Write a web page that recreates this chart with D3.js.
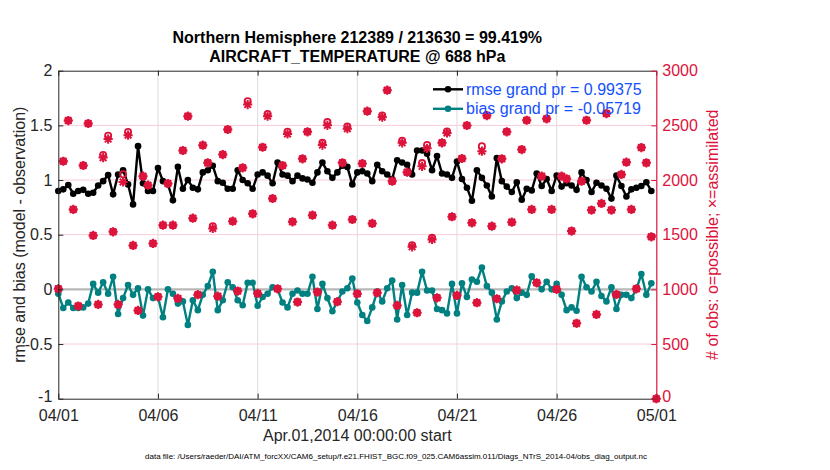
<!DOCTYPE html>
<html>
<head>
<meta charset="utf-8">
<script src="https://cdn.jsdelivr.net/npm/d3@7"></script>
<style>
  html, body { margin: 0; padding: 0; background: #fff; }
  svg { display: block; font-family: "Liberation Sans", Arial, Helvetica, sans-serif; }
</style>
</head>
<body>
<svg id="chart" width="830" height="470"></svg>
<script>
// ---------------- data ----------------
const startDate = Date.UTC(2014, 3, 1);   // Apr 01 2014 00:00 UTC
const stepHours = 6;

const rmse = [
  0.90,0.915,0.954,0.875,0.90,0.91,0.875,0.884,0.95,0.99,1.046,0.869,1.05,1.09,0.96,0.777,1.31,0.97,0.90,0.90,1.11,0.99,0.96,0.814,1.12,0.92,1.0,0.93,0.915,1.07,
  1.09,1.13,0.99,0.975,0.92,0.92,1.09,1.0,0.97,0.92,1.05,1.07,1.04,0.97,1.16,1.05,1.04,0.99,1.04,1.015,1.005,0.975,1.07,1.16,1.08,1.02,1.07,1.13,1.12,0.96,
  1.07,1.08,1.06,0.99,1.14,1.08,1.05,1.01,1.18,1.16,1.14,1.05,1.27,1.27,1.24,1.09,1.22,1.06,1.05,1.02,1.17,1.01,0.93,0.81,1.09,1.02,0.95,0.85,1.20,0.99,
  0.94,0.89,0.98,0.82,0.92,0.905,1.06,0.945,1.01,0.90,1.04,0.94,0.97,0.95,0.91,1.07,1.0,0.89,0.975,0.95,0.92,0.83,1.04,0.945,0.85,0.915,0.93,0.945,0.98,0.90
];

const bias = [
  -0.04,-0.17,-0.12,-0.17,-0.17,-0.165,-0.13,0.05,-0.03,0.065,-0.04,0.115,-0.225,-0.08,0.04,-0.05,0.01,-0.24,0.0,-0.08,-0.07,-0.255,0.0,-0.04,-0.13,-0.11,-0.325,-0.10,-0.19,-0.05,
  0.03,0.16,-0.19,-0.10,0.065,0.02,-0.10,-0.145,0.06,0.06,-0.15,-0.07,-0.04,0.02,0.0,-0.12,-0.165,-0.04,-0.01,-0.04,-0.04,0.115,-0.18,0.05,-0.08,-0.20,-0.11,-0.02,0.01,0.10,
  -0.12,-0.235,-0.29,-0.165,-0.02,-0.11,0.01,0.08,-0.275,0.04,-0.235,-0.03,-0.03,0.16,-0.01,-0.01,-0.18,-0.19,-0.22,0.05,-0.22,0.055,-0.07,0.09,0.07,0.20,0.03,-0.03,-0.275,-0.11,
  -0.02,0.01,-0.08,-0.03,-0.05,0.12,0.055,0.0,0.07,0.0,0.05,-0.05,-0.19,-0.165,-0.195,0.115,0.02,-0.02,0.07,-0.06,-0.11,0.02,-0.18,-0.05,-0.05,-0.08,0.0,0.14,-0.05,0.055
];

const obsAssimilated = [
  1005,2172,2544,1731,847,2133,2517,1493,862,2205,2375,1526,862,1983,2410,1402,807,2035,1953,1420,932,1587,1968,1587,917,2270,2584,1651,951,2319,
  2157,1557,938,2233,2462,1624,984,2112,2690,1691,963,2300,2584,1831,1005,2133,2422,1618,884,2194,2441,1679,975,2320,2500,1587,887,2157,2470,1639,
  960,2151,2630,1603,969,2575,2822,1990,853,2340,2072,1389,786,2125,2290,1456,923,2340,2430,1664,945,2197,2499,1609,878,2264,2590,1578,914,2194,
  2441,1615,993,2279,2547,1731,1060,2035,2560,1731,1000,2035,2011,1533,689,1990,2547,1725,771,1786,2608,1725,954,2051,2163,1731,1005,2297,2157,1481,
  0
];

const obsPossible = [
  1005,2172,2544,1731,847,2133,2517,1493,862,2230,2405,1526,862,2053,2440,1402,807,2035,1953,1420,932,1587,1968,1587,917,2270,2584,1651,951,2319,
  2157,1577,938,2233,2462,1624,984,2112,2720,1691,963,2300,2604,1831,1005,2133,2442,1618,884,2194,2441,1679,975,2340,2530,1587,887,2157,2490,1639,
  960,2151,2630,1603,969,2590,2822,1990,853,2360,2072,1404,786,2155,2320,1471,923,2340,2445,1664,945,2197,2499,1609,878,2309,2590,1578,914,2194,
  2441,1615,993,2279,2547,1731,1060,2035,2560,1731,1000,2035,2011,1533,689,1990,2547,1725,771,1786,2608,1725,954,2051,2163,1731,1005,2297,2157,1481,
  0
];

const xTickDays   = [0, 5, 10, 15, 20, 25, 30];
const xTickLabels = ["04/01", "04/06", "04/11", "04/16", "04/21", "04/26", "05/01"];
const yLeftTicks  = [-1, -0.5, 0, 0.5, 1, 1.5, 2];
const yLeftLabels = ["-1", "-0.5", "0", "0.5", "1", "1.5", "2"];
const yRightTicks = [0, 500, 1000, 1500, 2000, 2500, 3000];

const titleLines = ["Northern Hemisphere 212389 / 213630 = 99.419%", "AIRCRAFT_TEMPERATURE @ 688 hPa"];
const legendLabels = ["rmse grand pr = 0.99375", "bias grand pr = -0.05719"];
const xLabel = "Apr.01,2014 00:00:00 start";
const yLeftLabel = "rmse and bias (model - observation)";
const yRightLabel = "# of obs: o=possible; \u00d7=assimilated";
const dataFileText = "data file: /Users/raeder/DAI/ATM_forcXX/CAM6_setup/f.e21.FHIST_BGC.f09_025.CAM6assim.011/Diags_NTrS_2014-04/obs_diag_output.nc";

// ---------------- layout ----------------
const L = 58.3, R = 656.3, T = 70.7, B = 398.7;
const DAY = 86400000;
const C_RMSE = "#000000", C_BIAS = "#008080", C_OBS = "#dc143c", C_AX = "#262626", C_LEG = "#1450ff";

const svg = d3.select("#chart");

const x = d3.scaleUtc().domain([new Date(startDate), new Date(startDate + 30 * DAY)]).range([L, R]);
const yL = d3.scaleLinear().domain([-1, 2]).range([B, T]);
const yR = d3.scaleLinear().domain([0, 3000]).range([B, T]);

const timeAt = i => new Date(startDate + i * stepHours * 3600000);
const xTickDates = xTickDays.map(d => new Date(startDate + d * DAY));

// grid
const grid = svg.append("g");
grid.selectAll("line.v").data(xTickDates.slice(1, -1)).join("line")
  .attr("x1", d => x(d)).attr("x2", d => x(d)).attr("y1", T).attr("y2", B)
  .attr("stroke", "#dcdcdc").attr("stroke-width", 1);
grid.selectAll("line.h").data(yLeftTicks.slice(1, -1)).join("line")
  .attr("x1", L).attr("x2", R).attr("y1", d => yL(d)).attr("y2", d => yL(d))
  .attr("stroke", "#f6cdd8").attr("stroke-width", 1);

// zero line
svg.append("line").attr("x1", L).attr("x2", R).attr("y1", yL(0)).attr("y2", yL(0))
  .attr("stroke", "#b8b8b8").attr("stroke-width", 2.2);

// rmse / bias lines
function series(vals, color) {
  const g = svg.append("g");
  const line = d3.line().x((d, i) => x(timeAt(i))).y(d => yL(d));
  g.append("path").datum(vals).attr("d", line).attr("fill", "none")
    .attr("stroke", color).attr("stroke-width", 2.4).attr("stroke-linejoin", "round");
  g.selectAll("circle").data(vals).join("circle")
    .attr("cx", (d, i) => x(timeAt(i))).attr("cy", d => yL(d)).attr("r", 3.3).attr("fill", color);
}
series(rmse, C_RMSE);
series(bias, C_BIAS);

// obs count markers (o = possible, * = assimilated)
const starPath = "M-4.6,0L4.6,0M0,-4.6L0,4.6M-3.3,-3.3L3.3,3.3M-3.3,3.3L3.3,-3.3";
const obsG = svg.append("g");
obsG.selectAll("circle").data(obsPossible).join("circle")
  .attr("cx", (d, i) => x(timeAt(i))).attr("cy", d => yR(d)).attr("r", 3.1)
  .attr("fill", "none").attr("stroke", C_OBS).attr("stroke-width", 1.8);
obsG.selectAll("path").data(obsAssimilated).join("path")
  .attr("transform", (d, i) => `translate(${x(timeAt(i))},${yR(d)})`)
  .attr("d", starPath).attr("stroke", C_OBS).attr("stroke-width", 2).attr("fill", "none");

// axes
const fs = 16;
const axB = svg.append("g").attr("transform", `translate(0,${B})`)
  .call(d3.axisBottom(x).tickValues(xTickDates).tickSizeInner(-5).tickSizeOuter(0).tickPadding(11)
    .tickFormat((d, i) => xTickLabels[i]));
const axT = svg.append("g").attr("transform", `translate(0,${T})`)
  .call(d3.axisTop(x).tickValues(xTickDates).tickSizeInner(-5).tickSizeOuter(0).tickFormat(""));
const axLft = svg.append("g").attr("transform", `translate(${L},0)`)
  .call(d3.axisLeft(yL).tickValues(yLeftTicks).tickSizeInner(-5).tickSizeOuter(0).tickPadding(6)
    .tickFormat((d, i) => yLeftLabels[i]));
const axRgt = svg.append("g").attr("transform", `translate(${R},0)`)
  .call(d3.axisRight(yR).tickValues(yRightTicks).tickSizeInner(-5).tickSizeOuter(0).tickPadding(6)
    .tickFormat(d3.format("d")));

[axB, axT, axLft].forEach(a => {
  a.select(".domain").attr("stroke", C_AX).attr("stroke-width", 1);
  a.selectAll(".tick line").attr("stroke", C_AX);
  a.selectAll("text").attr("fill", C_AX).style("font-size", fs + "px").style("font-family", "Liberation Sans, Arial, sans-serif");
});
axRgt.select(".domain").attr("stroke", C_OBS).attr("stroke-width", 1.2);
axRgt.selectAll(".tick line").attr("stroke", C_OBS);
axRgt.selectAll("text").attr("fill", C_OBS).style("font-size", fs + "px").style("font-family", "Liberation Sans, Arial, sans-serif");
// lowest y tick labels sit slightly above the corner so they clear the date labels
axLft.selectAll(".tick text").filter(d => d === -1).attr("dy", "0.2em");
axRgt.selectAll(".tick text").filter(d => d === 0).attr("dy", "0.2em");

// legend
const legX0 = 433, legX1 = 463, legTx = 466, legY = [89.3, 108.8];
[[C_RMSE, legendLabels[0]], [C_BIAS, legendLabels[1]]].forEach(([c, t], k) => {
  svg.append("line").attr("x1", legX0).attr("x2", legX1).attr("y1", legY[k]).attr("y2", legY[k])
    .attr("stroke", c).attr("stroke-width", 2.4);
  svg.append("circle").attr("cx", (legX0 + legX1) / 2).attr("cy", legY[k]).attr("r", 3.3).attr("fill", c);
  svg.append("text").attr("x", legTx).attr("y", legY[k]).attr("dy", "0.35em")
    .attr("fill", C_LEG).style("font-size", "16px").text(t);
});

// titles and labels
const cx = (L + R) / 2;
svg.append("text").attr("x", cx).attr("y", 42.7).attr("text-anchor", "middle")
  .style("font-size", "16px").style("font-weight", "bold").attr("fill", "#000").text(titleLines[0]);
svg.append("text").attr("x", cx).attr("y", 61.7).attr("text-anchor", "middle")
  .style("font-size", "16px").style("font-weight", "bold").attr("fill", "#000").text(titleLines[1]);

svg.append("text").attr("x", cx).attr("y", 441).attr("text-anchor", "middle")
  .style("font-size", "16px").attr("fill", C_AX).text(xLabel);

svg.append("text").attr("transform", `translate(19,${(T + B) / 2}) rotate(-90)`)
  .attr("text-anchor", "middle").attr("dy", "0.35em")
  .style("font-size", "16px").attr("fill", C_AX).text(yLeftLabel);

svg.append("text").attr("transform", `translate(712,${(T + B) / 2}) rotate(-90)`)
  .attr("text-anchor", "middle").attr("dy", "0.35em")
  .style("font-size", "16px").attr("fill", C_OBS).text(yRightLabel);

svg.append("text").attr("x", 396).attr("y", 459).attr("text-anchor", "middle")
  .style("font-size", "8px").attr("fill", "#000").text(dataFileText);
</script>
</body>
</html>
